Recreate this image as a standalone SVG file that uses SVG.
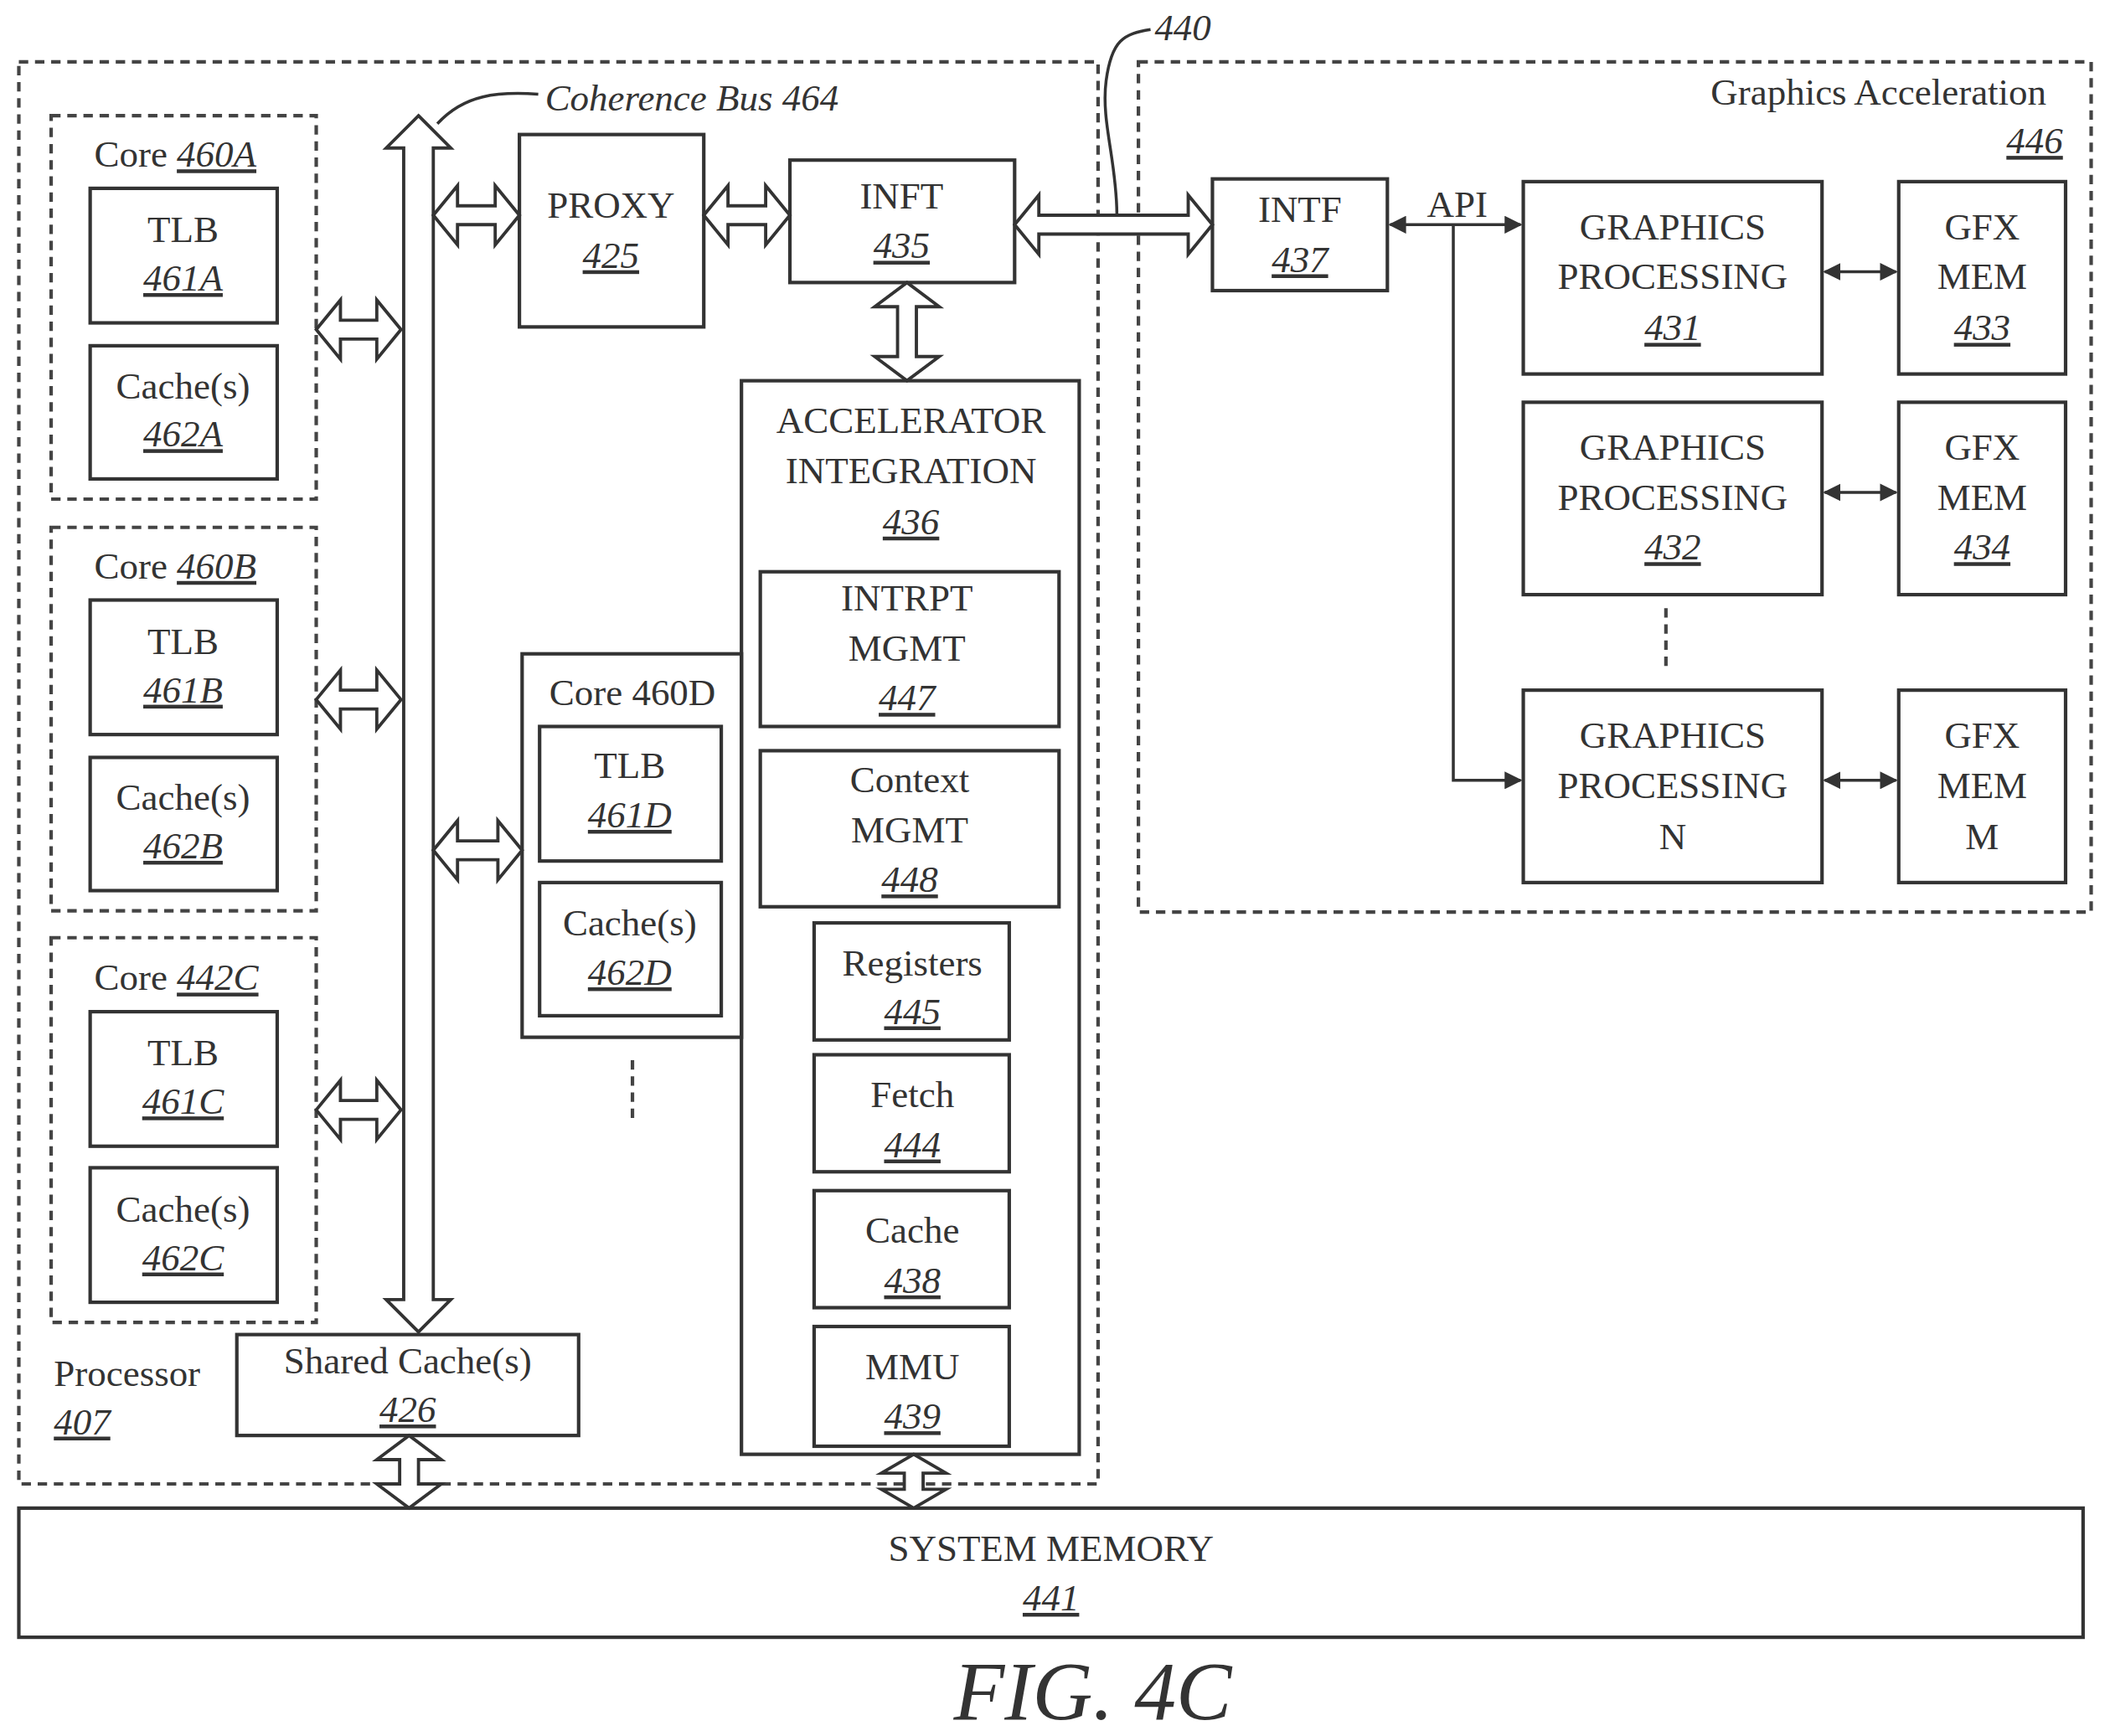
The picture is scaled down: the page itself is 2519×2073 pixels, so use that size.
<svg xmlns="http://www.w3.org/2000/svg" width="2519" height="2073" viewBox="0 0 2519 2073">
<style>
.b{fill:none;stroke:#333;stroke-width:2.6}
.d{fill:none;stroke:#444;stroke-width:2.6;stroke-dasharray:7,5}
.a{fill:#fff;stroke:#333;stroke-width:2.4;stroke-linejoin:miter}
.l{fill:none;stroke:#333;stroke-width:2.2}
text{font-family:"Liberation Serif",serif;font-size:28px;fill:#333;text-anchor:middle}
.n{font-style:italic;text-decoration:underline}
.s{text-anchor:start}
</style>
<defs>
<marker id="h" viewBox="0 0 10 10" refX="9" refY="5" markerWidth="6" markerHeight="6" orient="auto-start-reverse"><path d="M0,0L10,5L0,10z" fill="#333"/></marker>
</defs>
<rect width="2519" height="2073" fill="#fff"/>
<g transform="scale(1.6065)">
<g id="processor"><rect class="d" x="14" y="46" width="802" height="1057"/><text class="s" x="40" y="1030">Processor</text><text class="s n" x="40" y="1066">407</text></g>
<g id="gfxacc"><rect class="d" x="846" y="46" width="708" height="632"/><text x="1396" y="78">Graphics Acceleration</text><text class="n" x="1512" y="114">446</text></g>
<g id="core460A"><rect class="d" x="38" y="86" width="197" height="285"/><text class="s" x="70" y="124">Core <tspan class="n">460A</tspan></text>
<rect class="b" x="67" y="140" width="139" height="100"/><text x="136" y="180">TLB</text><text class="n" x="136" y="216">461A</text>
<rect class="b" x="67" y="257" width="139" height="99"/><text x="136" y="296">Cache(s)</text><text class="n" x="136" y="332">462A</text></g>
<g id="core460B"><rect class="d" x="38" y="392" width="197" height="285"/><text class="s" x="70" y="430">Core <tspan class="n">460B</tspan></text>
<rect class="b" x="67" y="446" width="139" height="100"/><text x="136" y="486">TLB</text><text class="n" x="136" y="522">461B</text>
<rect class="b" x="67" y="563" width="139" height="99"/><text x="136" y="602">Cache(s)</text><text class="n" x="136" y="638">462B</text></g>
<g id="core442C"><rect class="d" x="38" y="697" width="197" height="286"/><text class="s" x="70" y="736">Core <tspan class="n">442C</tspan></text>
<rect class="b" x="67" y="752" width="139" height="100"/><text x="136" y="792">TLB</text><text class="n" x="136" y="828">461C</text>
<rect class="b" x="67" y="868" width="139" height="100"/><text x="136" y="908">Cache(s)</text><text class="n" x="136" y="944">462C</text></g>
<g id="core460D"><rect class="b" x="388" y="486" width="163" height="285"/><text x="470" y="524">Core 460D</text>
<rect class="b" x="401" y="540" width="135" height="100"/><text x="468" y="578">TLB</text><text class="n" x="468" y="615">461D</text>
<rect class="b" x="401" y="656" width="135" height="99"/><text x="468" y="695">Cache(s)</text><text class="n" x="468" y="732">462D</text>
<line class="d" x1="470" y1="788" x2="470" y2="836"/></g>
<g id="shared"><rect class="b" x="176" y="992" width="254" height="75"/><text x="303" y="1021">Shared Cache(s)</text><text class="n" x="303" y="1057">426</text></g>
<g id="proxy"><rect class="b" x="386" y="100" width="137" height="143"/><text x="454" y="162">PROXY</text><text class="n" x="454" y="199">425</text></g>
<g id="inft"><rect class="b" x="587" y="119" width="167" height="91"/><text x="670" y="155">INFT</text><text class="n" x="670" y="192">435</text></g>
<g id="accel"><rect class="b" x="551" y="283" width="251" height="798"/><text x="677" y="322">ACCELERATOR</text><text x="677" y="359">INTEGRATION</text><text class="n" x="677" y="397">436</text>
<rect class="b" x="565" y="425" width="222" height="115"/><text x="674" y="454">INTRPT</text><text x="674" y="491">MGMT</text><text class="n" x="674" y="528">447</text>
<rect class="b" x="565" y="558" width="222" height="116"/><text x="676" y="589">Context</text><text x="676" y="626">MGMT</text><text class="n" x="676" y="663">448</text>
<rect class="b" x="605" y="686" width="145" height="87"/><text x="678" y="725">Registers</text><text class="n" x="678" y="761">445</text>
<rect class="b" x="605" y="784" width="145" height="87"/><text x="678" y="823">Fetch</text><text class="n" x="678" y="860">444</text>
<rect class="b" x="605" y="885" width="145" height="87"/><text x="678" y="924">Cache</text><text class="n" x="678" y="961">438</text>
<rect class="b" x="605" y="986" width="145" height="89"/><text x="678" y="1025">MMU</text><text class="n" x="678" y="1062">439</text></g>
<g id="intf"><rect class="b" x="901" y="133" width="130" height="83"/><text x="966" y="165">INTF</text><text class="n" x="966" y="202">437</text></g>
<g id="gp431"><rect class="b" x="1132" y="135" width="222" height="143"/><text x="1243" y="178">GRAPHICS</text><text x="1243" y="215">PROCESSING</text><text class="n" x="1243" y="253">431</text></g>
<g id="gm433"><rect class="b" x="1411" y="135" width="124" height="143"/><text x="1473" y="178">GFX</text><text x="1473" y="215">MEM</text><text class="n" x="1473" y="253">433</text></g>
<g id="gp432"><rect class="b" x="1132" y="299" width="222" height="143"/><text x="1243" y="342">GRAPHICS</text><text x="1243" y="379">PROCESSING</text><text class="n" x="1243" y="416">432</text></g>
<g id="gm434"><rect class="b" x="1411" y="299" width="124" height="143"/><text x="1473" y="342">GFX</text><text x="1473" y="379">MEM</text><text class="n" x="1473" y="416">434</text></g>
<line class="d" x1="1238" y1="452" x2="1238" y2="500"/>
<g id="gpN"><rect class="b" x="1132" y="513" width="222" height="143"/><text x="1243" y="556">GRAPHICS</text><text x="1243" y="593">PROCESSING</text><text x="1243" y="631">N</text></g>
<g id="gmM"><rect class="b" x="1411" y="513" width="124" height="143"/><text x="1473" y="556">GFX</text><text x="1473" y="593">MEM</text><text x="1473" y="631">M</text></g>
<g id="sysmem"><rect class="b" x="14" y="1121" width="1534" height="96"/><text x="781" y="1160">SYSTEM MEMORY</text><text class="n" x="781" y="1197">441</text></g>
<text x="812" y="1278" style="font-size:62px;font-style:italic">FIG. 4C</text>
<g id="connectors">
<polygon class="a" points="311,86 335,110 322,110 322,966 335,966 311,990 287,966 300,966 300,110 287,110"/>
<polygon class="a" points="235,245 253,223 253,238 280,238 280,223 298,245 280,267 280,252 253,252 253,267"/>
<polygon class="a" points="235,520 253,498 253,513 280,513 280,498 298,520 280,542 280,527 253,527 253,542"/>
<polygon class="a" points="235,825 253,803 253,818 280,818 280,803 298,825 280,847 280,832 253,832 253,847"/>
<polygon class="a" points="322,160 340,138 340,153 368,153 368,138 386,160 368,182 368,167 340,167 340,182"/>
<polygon class="a" points="523,160 541,138 541,153 569,153 569,138 587,160 569,182 569,167 541,167 541,182"/>
<polygon class="a" points="754,167 772,145 772,160 883,160 883,145 901,167 883,189 883,174 772,174 772,189"/>
<polygon class="a" points="322,632 340,610 340,625 370,625 370,610 388,632 370,654 370,639 340,639 340,654"/>
<polygon class="a" points="674,210 698,228 681,228 681,265 698,265 674,283 650,265 667,265 667,228 650,228"/>
<polygon class="a" points="304,1067 328,1085 311,1085 311,1103 328,1103 304,1121 280,1103 297,1103 297,1085 280,1085"/>
<polygon class="a" points="679,1081 703,1095 686,1095 686,1107 703,1107 679,1121 655,1107 672,1107 672,1095 655,1095"/>
<path class="l" d="M830,160 C830,120 818,90 822,60 C826,30 835,25 855,22"/>
<text class="s" x="858" y="30" style="font-style:italic">440</text>
<path class="l" d="M325,92 C345,70 370,68 400,70"/>
<text class="s" x="405" y="82" style="font-style:italic">Coherence Bus 464</text>
<line class="l" x1="1033" y1="167" x2="1130" y2="167" marker-start="url(#h)" marker-end="url(#h)"/>
<text x="1083" y="161">API</text>
<polyline class="l" points="1080,167 1080,580 1130,580" marker-end="url(#h)"/>
<line class="l" x1="1356" y1="202" x2="1409" y2="202" marker-start="url(#h)" marker-end="url(#h)"/>
<line class="l" x1="1356" y1="366" x2="1409" y2="366" marker-start="url(#h)" marker-end="url(#h)"/>
<line class="l" x1="1356" y1="580" x2="1409" y2="580" marker-start="url(#h)" marker-end="url(#h)"/>
</g>
</g>
</svg>
